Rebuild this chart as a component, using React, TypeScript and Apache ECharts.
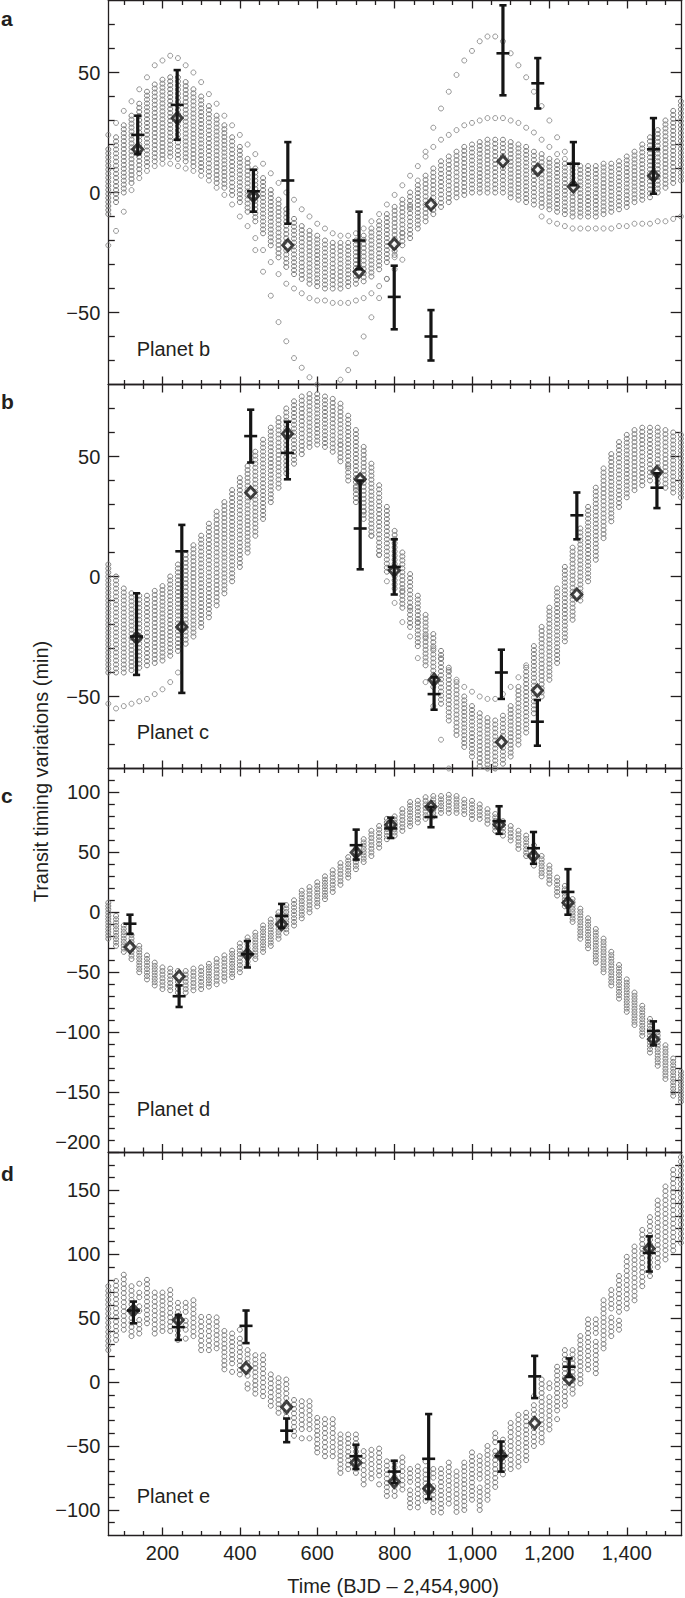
import React, { useEffect, useRef } from 'react';
import * as echarts from 'echarts';

// Time grid (days, BJD - 2,454,900) on which model circles are sampled
const T = [60, 80, 100, 120, 140, 160, 180, 200, 220, 240, 260, 280, 300, 320, 340, 360, 380, 400, 420, 440,
  460, 480, 500, 520, 540, 560, 580, 600, 620, 640, 660, 680, 700, 720, 740, 760, 780, 800, 820, 840,
  860, 880, 900, 920, 940, 960, 980, 1000, 1020, 1040, 1060, 1080, 1100, 1120, 1140, 1160, 1180, 1200, 1220, 1240,
  1260, 1280, 1300, 1320, 1340, 1360, 1380, 1400, 1420, 1440, 1460, 1480, 1500, 1520, 1540];

// ---- Planet b (panel a) ----
const aHi = [18, 23, 28, 32, 37, 42, 45, 47, 48, 48,
  46, 43, 40, 36, 32, 28, 23, 19, 14, 10,
  6, 1, -3, -7, -11, -14, -16, -18, -20, -21,
  -21, -21, -20, -18, -15, -12, -9, -6, -3, 0,
  3, 7, 10, 13, 15, 17, 19, 20, 21, 22,
  22, 22, 21, 20, 19, 17, 16, 14, 13, 12,
  11, 11, 11, 11, 12, 12, 13, 15, 17, 20,
  23, 26, 30, 34, 38];
const aLo = [-9, -4, 0, 4, 8, 11, 13, 14, 15, 14,
  13, 11, 9, 7, 4, 2, -1, -4, -8, -12,
  -17, -22, -27, -31, -34, -36, -38, -39, -40, -40,
  -40, -39, -38, -37, -35, -32, -29, -26, -22, -19,
  -15, -12, -9, -6, -4, -2, -1, 0, 0, 0,
  0, 0, -2, -3, -4, -5, -6, -7, -8, -9,
  -10, -10, -10, -10, -9, -8, -7, -6, -4, -3,
  -2, 0, 2, 4, 5];
const aUpper = [24, 29, 34, 38, 43, 48, 53, 55, 57, 56, 53, 50, 46, 41, 37, 32, 28, 24, 20, 16,
  12, 8, 4, 0, -3, -7, -10, -13, -15, -17, -18, -18, -17, -15, -12, -9, -5, -1, 3, 7,
  11, 15, 19, 22, 24, 26, 28, 29, 30, 31, 31, 31, 30, 29, 27, 25, 22, 19, 16, 14, 12];
const aLower1 = [-22, -16, -8, 1, 6, 9, 11, 12, 12, 11, 10, 9, 7, 5, 2, -1, -5, -10, -14, -19,
  -24, -29, -34, -38, -40, -42, -44, -45, -45, -46, -46, -46, -45, -44, -42, -39, -36, -32, -28];
const aLower2 = [-10, -12, -13, -14, -15, -15, -15, -15, -15, -15, -14, -14, -13, -13, -13, -12, -12, -11, -10];
const aOutlier = [-24, -33, -43, -54, -62, -69, -73, -77, -80, -83, -82, -78, -74, -67, -60, -52, -44, -36, -27, -17,
  -6, 5, 17, 27, 35, 42, 49, 55, 59, 63, 65, 65, 63, 58, 53, 48, 42, 36, 30, 23, 17];
const aDiamonds = [[136, 18], [238, 31], [435, -1.5], [524, -22], [708, -33], [799, -21.5], [894, -5], [1080, 13], [1170, 9.5], [1262, 2.5], [1469, 7]];
// [time, value, low, high]
const aObs = [[136, 24, 16, 32], [238, 36.5, 22, 51], [435, 0.5, -8, 9.5], [524, 5, -13, 21], [708, -20, -32, -8],
  [799, -43.5, -57, -30.5], [894, -60, -70, -49], [1080, 58, 40.5, 78], [1170, 45.5, 35, 56], [1262, 12, 3, 21], [1469, 18, -0.5, 31]];

// ---- Planet c (panel b) ----
const bHi = [5, 0, -5, -7, -8, -8, -6, -4, 0, 5,
  9, 13, 17, 22, 27, 31, 36, 41, 46, 52,
  57, 62, 66, 70, 73, 75, 76, 76, 75, 74,
  72, 67, 61, 54, 47, 38, 29, 19, 10, 1,
  -8, -16, -24, -31, -38, -44, -50, -54, -57, -59,
  -60, -58, -54, -46, -38, -29, -21, -13, -5, 4,
  12, 20, 29, 37, 45, 51, 56, 59, 61, 62,
  62, 62, 61, 60, 59];
const bLo = [-40, -40, -40, -39, -38, -37, -36, -35, -33, -31,
  -28, -25, -21, -17, -12, -7, -2, 4, 10, 17,
  24, 31, 37, 43, 47, 51, 54, 55, 54, 52,
  48, 40, 31, 24, 17, 9, 2, -5, -13, -21,
  -29, -37, -46, -53, -60, -66, -71, -75, -79, -80,
  -80, -78, -75, -70, -65, -57, -50, -43, -36, -27,
  -18, -10, -2, 7, 16, 23, 29, 33, 36, 38,
  40, 39, 37, 35, 33];
const bLowLeft = [-53, -55, -54, -53, -52, -51, -49, -47, -44, -40];
const bShallow = [3, -6, -13, -19, -25, -30, -34, -39, -43, -46, -48, -50, -51, -51, -49, -46, -42, -37];
const bLate = [55, 46, 37, 27, 17, 9, -2, -11, -19, -25, -34, -44, -54, -68, -80];
const bDiamonds = [[133, -25.5], [250, -21], [428, 35], [523, 59.5], [711, 40.5], [799, 2.5], [902, -43], [1076, -69], [1169, -47.5], [1271, -7.5], [1478, 43.5]];
const bObs = [[133, -25, -41, -7], [250, 10.5, -48.5, 21.5], [428, 58.5, 47.5, 69.5], [523, 51.5, 40.5, 64.5], [711, 20, 3, 40],
  [799, 4, -7.5, 15.5], [902, -49, -55.5, -42], [1076, -40, -51, -30.5], [1169, -60.5, -70.5, -51.5], [1271, 25.5, 15.5, 35], [1478, 37, 28.5, 43]];

// ---- Planet d (panel c) ----
const cHi = [8, -3, -11, -19, -28, -36, -42, -46, -47, -49,
  -49, -47, -46, -43, -39, -36, -32, -26, -21, -17,
  -11, -6, 0, 6, 10, 18, 21, 25, 30, 35,
  41, 46, 53, 61, 68, 72, 78, 80, 86, 92,
  93, 96, 97, 97, 98, 97, 94, 93, 90, 86,
  82, 76, 72, 68, 64, 56, 47, 39, 29, 22,
  11, 3, -5, -14, -22, -33, -44, -56, -67, -78,
  -89, -100, -111, -122, -133];
const cLo = [-22, -28, -33, -39, -50, -56, -61, -64, -65, -67,
  -67, -65, -64, -62, -60, -57, -54, -50, -44, -39,
  -33, -28, -22, -17, -11, -5, 0, 5, 11, 17,
  23, 29, 36, 42, 47, 54, 61, 64, 68, 72,
  75, 78, 80, 83, 83, 83, 82, 78, 78, 74,
  68, 64, 60, 53, 47, 39, 30, 24, 14, 5,
  -8, -22, -30, -42, -50, -61, -72, -83, -94, -103,
  -117, -128, -139, -153, -158];
const cDiamonds = [[116, -29], [243, -53.5], [419.5, -35], [508, -10], [700.6, 50], [790, 73], [894, 88], [1070, 73], [1159, 47], [1248, 8], [1469, -106]];
const cObs = [[116, -9.5, -18, -2], [243, -70, -79, -61], [419.5, -35, -46, -24], [508, -3, -13, 7], [700.6, 56, 44, 69],
  [790, 70, 62, 79], [894, 79.5, 71, 88], [1070, 76, 65.5, 88.5], [1159, 53.5, 40.5, 67], [1248, 17, -2, 36], [1469, -99, -111, -91]];

// ---- Planet e (panel d) ----
const dHi = [75, 79, 84, 75, 77, 80, 70, 70, 72, 62,
  62, 64, 51, 51, 54, 40, 38, 41, 25, 21,
  21, 6, 3, 2, -14, -15, -15, -28, -29, -29,
  -41, -41, -41, -54, -53, -52, -62, -63, -59, -68,
  -66, -62, -68, -68, -63, -70, -63, -55, -58, -50,
  -40, -45, -32, -22, -24, -11, 2, -1, 12, 25,
  25, 36, 49, 49, 64, 72, 83, 98, 106, 119,
  129, 142, 153, 166, 176];
const dLo = [25, 33, 41, 36, 38, 46, 38, 40, 40, 33,
  34, 36, 25, 25, 23, 10, 8, 6, -5, -9,
  -11, -22, -24, -27, -42, -44, -44, -55, -58, -58,
  -71, -68, -71, -80, -79, -80, -89, -89, -84, -98,
  -98, -93, -105, -102, -95, -105, -100, -92, -100, -92,
  -82, -79, -68, -66, -61, -50, -47, -37, -29, -22,
  -9, -1, 10, 7, 23, 36, 41, 54, 64, 75,
  83, 90, 96, 103, 109];
const dDiamonds = [[125, 56], [241, 48.5], [416, 11], [521, -19.5], [700, -63], [799, -78], [888, -83.5], [1075, -57.5], [1162, -32], [1251, 2.5], [1458, 104.5]];
const dObs = [[125, 56, 46, 63], [241, 43, 33, 52.5], [416, 44, 30.5, 56], [521, -38, -47, -28.5], [700, -58, -68, -49],
  [799, -70, -79, -61.5], [888, -60, -91.5, -25], [1075, -58, -70, -46.5], [1162, 4.5, -12.5, 20.5], [1251, 12, 4, 18.5], [1458, 101, 86.5, 114]];

// ---- Ticks ----
const X_MIN = 60;
const X_MAX = 1542;
const X_MAJOR = [200, 400, 600, 800, 1000, 1200, 1400];
const X_MINOR = [100, 150, 250, 300, 350, 450, 500, 550, 650, 700, 750, 850, 900, 950, 1050, 1100, 1150, 1250, 1300, 1350, 1450, 1500];
const AB_MAJOR = [-50, 0, 50];
const AB_MINOR = [-70, -60, -40, -30, -20, -10, 10, 20, 30, 40, 60, 70];
const C_MAJOR = [-200, -150, -100, -50, 0, 50, 100];
const C_MINOR = [-190, -180, -170, -160, -140, -130, -120, -110, -90, -80, -70, -60, -40, -30, -20, -10, 10, 20, 30, 40, 60, 70, 80, 90, 110];
const D_MAJOR = [-100, -50, 0, 50, 100, 150];
const D_MINOR = [-110, -90, -80, -70, -60, -40, -30, -20, -10, 10, 20, 30, 40, 60, 70, 80, 90, 110, 120, 130, 140, 160, 170];

const PANELS = [
  { letter: 'a', name: 'Planet b', min: -80, max: 80, major: AB_MAJOR, minor: AB_MINOR, hi: aHi, lo: aLo,
    sparse: [[aUpper, 0], [aLower1, 0], [aLower2, 56], [aOutlier, 19]], diamonds: aDiamonds, obs: aObs },
  { letter: 'b', name: 'Planet c', min: -80, max: 80, major: AB_MAJOR, minor: AB_MINOR, hi: bHi, lo: bLo,
    sparse: [[bLowLeft, 0], [bShallow, 37], [bLate, 30]], diamonds: bDiamonds, obs: bObs },
  { letter: 'c', name: 'Planet d', min: -200, max: 120, major: C_MAJOR, minor: C_MINOR, hi: cHi, lo: cLo,
    sparse: [], diamonds: cDiamonds, obs: cObs },
  { letter: 'd', name: 'Planet e', min: -120, max: 180, major: D_MAJOR, minor: D_MINOR, hi: dHi, lo: dLo,
    sparse: [], diamonds: dDiamonds, obs: dObs },
];

// ---- Layout & style (kept apart from data) ----
const LAYOUT = {
  left: 108.3, width: 573.4,
  tops: [0.5, 384.5, 768.5, 1152],
  heights: [384, 384, 383.5, 383.5],
  letterY: [18, 401, 795, 1173],
  nameY: [349, 732, 1109, 1496],
  spacing: [4, 4, 3.4, 4.5],
};
const INK = '#231f20';
const GRAY = '#7d7d7d';
const FONT = '"Liberation Sans", Arial, Helvetica, sans-serif';

const fmtY = (v: number) => (v < 0 ? '\u2212' + Math.abs(v) : String(v));
const fmtX = (v: number) => (v >= 1000 ? Math.floor(v / 1000) + ',' + String(v % 1000).padStart(3, '0') : String(v));

const makeColumnRenderer = (spacing: number) => (params: any, api: any) => {
  const t = api.value(0);
  const top = api.coord([t, api.value(2)]);
  const bot = api.coord([t, api.value(1)]);
  const cs = params.coordSys;
  const span = bot[1] - top[1];
  const n = Math.max(1, Math.round(span / spacing) + 1);
  const step = n > 1 ? span / (n - 1) : 0;
  const children: any[] = [];
  for (let i = 0; i < n; i++) {
    const cy = top[1] + i * step;
    if (cy < cs.y - 1 || cy > cs.y + cs.height + 1) continue;
    children.push({ type: 'circle', shape: { cx: top[0], cy, r: 2.5 }, style: { fill: 'none', stroke: GRAY, lineWidth: 1 } });
  }
  return { type: 'group', children };
};

const renderErrorBar = (params: any, api: any) => {
  const t = api.value(0);
  const c = api.coord([t, api.value(1)]);
  const lo = api.coord([t, api.value(2)]);
  const hi = api.coord([t, api.value(3)]);
  const x = c[0];
  const s = { stroke: '#151515', lineWidth: 2.6 };
  return {
    type: 'group',
    children: [
      { type: 'line', shape: { x1: x, y1: hi[1], x2: x, y2: lo[1] }, style: { stroke: '#151515', lineWidth: 3.2 } },
      { type: 'line', shape: { x1: x - 3.6, y1: hi[1], x2: x + 3.6, y2: hi[1] }, style: s },
      { type: 'line', shape: { x1: x - 3.6, y1: lo[1], x2: x + 3.6, y2: lo[1] }, style: s },
      { type: 'line', shape: { x1: x - 6.5, y1: c[1], x2: x + 6.5, y2: c[1] }, style: s },
    ],
  };
};

function buildOption() {
  const grid: any[] = [];
  const xAxis: any[] = [];
  const yAxis: any[] = [];
  const series: any[] = [];
  const graphic: any[] = [];
  const lineStyle = { color: INK, width: 1.3 };

  PANELS.forEach((p, i) => {
    grid.push({ left: LAYOUT.left, width: LAYOUT.width, top: LAYOUT.tops[i], height: LAYOUT.heights[i], outerBoundsMode: 'none' });
    const isLast = i === PANELS.length - 1;
    const xBase = { gridIndex: i, type: 'value', min: X_MIN, max: X_MAX, splitLine: { show: false } };
    (['bottom', 'top'] as const).forEach((pos) => {
      xAxis.push({
        ...xBase, position: pos,
        axisLine: { show: true, onZero: false, lineStyle },
        axisTick: { show: true, inside: true, length: 8, customValues: X_MAJOR, lineStyle },
        axisLabel: {
          show: isLast && pos === 'bottom', customValues: X_MAJOR, formatter: fmtX,
          fontSize: 20, color: INK, fontFamily: FONT, margin: 7,
        },
      });
      xAxis.push({
        ...xBase, position: pos,
        axisLine: { show: false, onZero: false },
        axisTick: { show: true, inside: true, length: 4.5, customValues: X_MINOR, lineStyle },
        axisLabel: { show: false },
      });
    });
    const yBase = { gridIndex: i, type: 'value', min: p.min, max: p.max, splitLine: { show: false } };
    (['left', 'right'] as const).forEach((pos) => {
      yAxis.push({
        ...yBase, position: pos,
        axisLine: { show: true, onZero: false, lineStyle },
        axisTick: { show: true, inside: true, length: 11, customValues: p.major, lineStyle },
        axisLabel: {
          show: pos === 'left', customValues: p.major, formatter: fmtY,
          fontSize: 20, color: INK, fontFamily: FONT, margin: 8,
          verticalAlignMinLabel: p.min === -200 ? 'bottom' : undefined,
        },
      });
      yAxis.push({
        ...yBase, position: pos,
        axisLine: { show: false, onZero: false },
        axisTick: { show: true, inside: true, length: 6.5, customValues: p.minor, lineStyle },
        axisLabel: { show: false },
      });
    });
    const xi = i * 4;
    const yi = i * 4;

    series.push({
      type: 'custom', xAxisIndex: xi, yAxisIndex: yi, silent: true, z: 1,
      renderItem: makeColumnRenderer(LAYOUT.spacing[i]),
      encode: { x: 0, y: [1, 2] },
      data: T.map((t, k) => [t, p.lo[k], p.hi[k]]),
    });
    p.sparse.forEach(([vals, start]: any) => {
      series.push({
        type: 'scatter', xAxisIndex: xi, yAxisIndex: yi, silent: true, z: 2, clip: true,
        symbol: 'circle', symbolSize: 5,
        itemStyle: { color: 'rgba(255,255,255,0)', borderColor: GRAY, borderWidth: 1 },
        data: (vals as number[]).map((v, k) => [T[start + k], v]),
      });
    });
    series.push({
      type: 'scatter', xAxisIndex: xi, yAxisIndex: yi, silent: true, z: 3,
      symbol: 'diamond', symbolSize: [10, 11],
      itemStyle: { color: '#ffffff', borderColor: '#151515', borderWidth: 3 },
      data: p.diamonds,
    });
    series.push({
      type: 'custom', xAxisIndex: xi, yAxisIndex: yi, silent: true, z: 4,
      renderItem: renderErrorBar,
      encode: { x: 0, y: [1, 2, 3] },
      data: p.obs,
    });

    graphic.push({
      type: 'text', x: 1, y: LAYOUT.letterY[i], silent: true,
      style: { text: p.letter, fontSize: 21, fontWeight: 'bold', fontFamily: FONT, fill: INK, align: 'left', verticalAlign: 'middle' },
    });
    graphic.push({
      type: 'text', x: 136.7, y: LAYOUT.nameY[i], silent: true,
      style: { text: p.name, fontSize: 20, fontFamily: FONT, fill: INK, align: 'left', verticalAlign: 'middle' },
    });
  });

  graphic.push({
    type: 'text', x: 41, y: 771.5, rotation: Math.PI / 2, silent: true,
    style: { text: 'Transit timing variations (min)', fontSize: 20, fontFamily: FONT, fill: INK, align: 'center', verticalAlign: 'middle' },
  });
  graphic.push({
    type: 'text', x: 393, y: 1586, silent: true,
    style: { text: 'Time (BJD \u2013 2,454,900)', fontSize: 20, fontFamily: FONT, fill: INK, align: 'center', verticalAlign: 'middle' },
  });

  return {
    animation: false,
    backgroundColor: '#ffffff',
    textStyle: { fontFamily: FONT },
    grid, xAxis, yAxis, series, graphic,
  };
}

export default function App() {
  const ref = useRef<HTMLDivElement>(null);
  useEffect(() => {
    if (!ref.current) return;
    const chart = echarts.init(ref.current, null, { renderer: 'svg' });
    chart.setOption(buildOption() as any);
    return () => chart.dispose();
  }, []);
  return <div ref={ref} style={{ position: 'absolute', left: 0, top: 0, width: 685, height: 1598 }} />;
}
